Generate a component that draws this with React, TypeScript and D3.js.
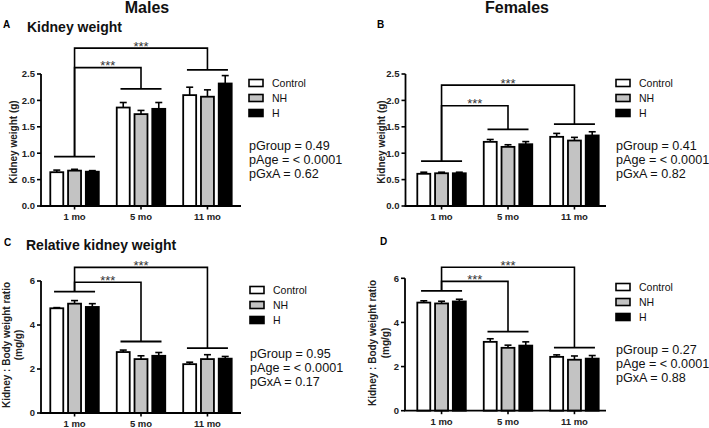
import * as d3 from 'd3';
import React from 'react';

// categories
const ages = ['1 mo', '5 mo', '11 mo'];
const groups = ['Control', 'NH', 'H'];
const groupFill = ['#ffffff', '#c3c3c3', '#000000'];

// kidney weight (g), males / females  [age][group]
const maleKidney = [
  [0.64, 0.67, 0.65],
  [1.865, 1.74, 1.84],
  [2.1, 2.07, 2.32],
];
const maleKidneyErr = [
  [0.04, 0.025, 0.02],
  [0.095, 0.07, 0.12],
  [0.15, 0.13, 0.15],
];
const femaleKidney = [
  [0.61, 0.62, 0.62],
  [1.215, 1.12, 1.17],
  [1.31, 1.24, 1.336],
];
const femaleKidneyErr = [
  [0.03, 0.02, 0.02],
  [0.045, 0.04, 0.05],
  [0.065, 0.06, 0.07],
];

// kidney : body weight ratio (mg/g)
const maleRatio = [
  [4.76, 4.97, 4.82],
  [2.77, 2.45, 2.6],
  [2.22, 2.45, 2.47],
];
const maleRatioErr = [
  [0.03, 0.14, 0.15],
  [0.09, 0.15, 0.15],
  [0.09, 0.2, 0.1],
];
const femaleRatio = [
  [4.9, 4.86, 4.95],
  [3.12, 2.85, 2.95],
  [2.44, 2.31, 2.36],
];
const femaleRatioErr = [
  [0.08, 0.1, 0.1],
  [0.14, 0.12, 0.17],
  [0.09, 0.17, 0.14],
];

// significance brackets: level of each age line, then the two bracket tops
const maleKidneyLines = [0.935, 2.22, 2.58];
const maleKidneyTops = [2.62, 2.99];
const femaleKidneyLines = [0.85, 1.45, 1.55];
const femaleKidneyTops = [1.9, 2.29];
const maleRatioLines = [5.52, 3.25, 2.95];
const maleRatioTops = [5.94, 6.62];
const femaleRatioLines = [5.43, 3.58, 2.86];
const femaleRatioTops = [5.86, 6.5];

const kidneyTicks = [0, 0.5, 1.0, 1.5, 2.0, 2.5];
const ratioTicks = [0, 2, 4, 6];

const maleKidneyP = ['pGroup = 0.49', 'pAge = < 0.0001', 'pGxA = 0.62'];
const femaleKidneyP = ['pGroup = 0.41', 'pAge = < 0.0001', 'pGxA = 0.82'];
const maleRatioP = ['pGroup = 0.95', 'pAge = < 0.0001', 'pGxA = 0.17'];
const femaleRatioP = ['pGroup = 0.27', 'pAge = < 0.0001', 'pGxA = 0.88'];

const FONT = '"Liberation Sans", Arial, Helvetica, sans-serif';

const panels = [
  {
    letter: 'A', title: 'Kidney weight', values: maleKidney, errs: maleKidneyErr,
    lines: maleKidneyLines, tops: maleKidneyTops, ticks: kidneyTicks, fmt: '.1f', p: maleKidneyP,
    yLabel: ['Kidney weight (g)'], axisX: 41, axisEnd: 241, bandStart: 41, y0: 206, yTop: 74, max: 2.5,
    letterXY: [3, 28], titleXY: [27, 31.5], labelX: [13], labelY: 142,
    legX: 249, legY: 83, pY: 149.5, tickY: 220,
  },
  {
    letter: 'B', title: '', values: femaleKidney, errs: femaleKidneyErr,
    lines: femaleKidneyLines, tops: femaleKidneyTops, ticks: kidneyTicks, fmt: '.1f', p: femaleKidneyP,
    yLabel: ['Kidney weight (g)'], axisX: 405.5, axisEnd: 606, bandStart: 408, y0: 206, yTop: 74, max: 2.5,
    letterXY: [377, 27.5], titleXY: [0, 0], labelX: [381], labelY: 142,
    legX: 616, legY: 83, pY: 149.5, tickY: 220,
  },
  {
    letter: 'C', title: 'Relative kidney weight', values: maleRatio, errs: maleRatioErr,
    lines: maleRatioLines, tops: maleRatioTops, ticks: ratioTicks, fmt: 'd', p: maleRatioP,
    yLabel: ['Kidney : Body weight ratio', '(mg/g)'], axisX: 41, axisEnd: 241, bandStart: 41, y0: 413, yTop: 281, max: 6,
    letterXY: [4, 245.5], titleXY: [26, 250], labelX: [6.5, 18.5], labelY: 345,
    legX: 250, legY: 290, pY: 357.5, tickY: 426.5,
  },
  {
    letter: 'D', title: '', values: femaleRatio, errs: femaleRatioErr,
    lines: femaleRatioLines, tops: femaleRatioTops, ticks: ratioTicks, fmt: 'd', p: femaleRatioP,
    yLabel: ['Kidney : Body weight ratio', '(mg/g)'], axisX: 405, axisEnd: 606, bandStart: 408, y0: 410.7, yTop: 278.3, max: 6,
    letterXY: [380, 245], titleXY: [0, 0], labelX: [372, 385.5], labelY: 343,
    legX: 616, legY: 287, pY: 353.8, tickY: 425,
  },
];

type Panel = (typeof panels)[number];

function BarPanel({ pn }: { pn: Panel }) {
  const x = d3.scaleBand<string>().domain(ages).range([pn.bandStart, pn.bandStart + 200]).paddingInner(0.27).paddingOuter(0.14);
  const xi = d3.scaleBand<string>().domain(groups).range([0, x.bandwidth()]).paddingInner(0.27);
  const y = d3.scaleLinear().domain([0, pn.max]).range([pn.y0, pn.yTop]);
  const fmt = d3.format(pn.fmt);
  const cx = (a: string) => (x(a) as number) + x.bandwidth() / 2;
  const half = 20.5;
  const capW = 3.5;

  return (
    <g fontFamily={FONT}>
      <text x={pn.letterXY[0]} y={pn.letterXY[1]} fontSize={10} fontWeight="bold">{pn.letter}</text>
      {pn.title && (
        <text x={pn.titleXY[0]} y={pn.titleXY[1]} fontSize={14} fontWeight="bold" fill="#111">{pn.title}</text>
      )}

      {/* bars + error bars */}
      {ages.map((a, ai) =>
        groups.map((g, gi) => {
          const bx = (x(a) as number) + (xi(g) as number);
          const v = pn.values[ai][gi];
          const e = pn.errs[ai][gi];
          const mx = bx + xi.bandwidth() / 2;
          return (
            <g key={a + g}>
              <line x1={mx} x2={mx} y1={y(v)} y2={y(v + e)} stroke="#000" strokeWidth={1.6} />
              <line x1={mx - capW} x2={mx + capW} y1={y(v + e)} y2={y(v + e)} stroke="#000" strokeWidth={1.6} />
              <rect x={bx} y={y(v)} width={xi.bandwidth()} height={pn.y0 - y(v)} fill={groupFill[gi]} stroke="#000" strokeWidth={1.8} />
            </g>
          );
        })
      )}

      {/* y axis */}
      <line x1={pn.axisX} x2={pn.axisX} y1={pn.y0} y2={y(pn.max)} stroke="#000" strokeWidth={1.8} />
      {pn.ticks.map((t) => (
        <g key={t}>
          <line x1={pn.axisX - 4} x2={pn.axisX} y1={y(t)} y2={y(t)} stroke="#000" strokeWidth={1.6} />
          <text x={pn.axisX - 6} y={y(t)} dy="0.35em" textAnchor="end" fontSize={9.5} fontWeight="bold" fill="#222">
            {fmt(t)}
          </text>
        </g>
      ))}
      {pn.yLabel.map((l, i) => (
        <text
          key={l}
          transform={`translate(${pn.labelX[i]},${pn.labelY}) rotate(-90)`}
          textAnchor="middle"
          dominantBaseline="central"
          fontSize={10}
          fontWeight="bold"
          fill="#222"
        >
          {l}
        </text>
      ))}

      {/* x axis */}
      <line x1={pn.axisX - 1} x2={pn.axisEnd} y1={pn.y0} y2={pn.y0} stroke="#000" strokeWidth={1.8} />
      {ages.map((a) => (
        <g key={a}>
          <line x1={cx(a)} x2={cx(a)} y1={pn.y0} y2={pn.y0 + 3.5} stroke="#000" strokeWidth={1.6} />
          <text x={cx(a)} y={pn.tickY} textAnchor="middle" fontSize={9.5} fontWeight="bold" fill="#222">{a}</text>
        </g>
      ))}

      {/* significance brackets */}
      {ages.map((a, ai) => (
        <line key={a} x1={cx(a) - half} x2={cx(a) + half} y1={y(pn.lines[ai])} y2={y(pn.lines[ai])} stroke="#000" strokeWidth={1.8} />
      ))}
      {pn.tops.map((t, ti) => {
        const target = ages[ti + 1];
        const path = d3.path();
        path.moveTo(cx(ages[0]), y(pn.lines[0]));
        path.lineTo(cx(ages[0]), y(t));
        path.lineTo(cx(target), y(t));
        path.lineTo(cx(target), y(pn.lines[ti + 1]));
        return (
          <g key={ti}>
            <path d={path.toString()} fill="none" stroke="#000" strokeWidth={1.6} />
            <text x={(cx(ages[0]) + cx(target)) / 2} y={y(t) + 2.8} textAnchor="middle" fontSize={13} fill="#333">***</text>
          </g>
        );
      })}

      {/* legend */}
      {groups.map((g, gi) => (
        <g key={g} transform={`translate(${pn.legX},${pn.legY + gi * 15})`}>
          <rect x={0} y={-3.5} width={14} height={7} fill={groupFill[gi]} stroke="#000" strokeWidth={1.6} />
          <text x={23} y={3.8} fontSize={10.5} fill="#111">{g}</text>
        </g>
      ))}

      {/* stats */}
      {pn.p.map((s, i) => (
        <text key={s} x={pn.legX} y={pn.pY + i * 14} fontSize={12.6} fill="#111">{s}</text>
      ))}
    </g>
  );
}

export default function App() {
  return (
    <svg width={709} height={428} style={{ position: 'absolute', left: 0, top: 0, background: '#fff' }}>
      <rect width={709} height={428} fill="#fff" />
      <text x={147} y={13} textAnchor="middle" fontFamily={FONT} fontSize={16} fontWeight="bold" fill="#111">Males</text>
      <text x={517} y={13} textAnchor="middle" fontFamily={FONT} fontSize={16} fontWeight="bold" fill="#111">Females</text>
      {panels.map((pn) => (
        <BarPanel key={pn.letter} pn={pn} />
      ))}
    </svg>
  );
}
